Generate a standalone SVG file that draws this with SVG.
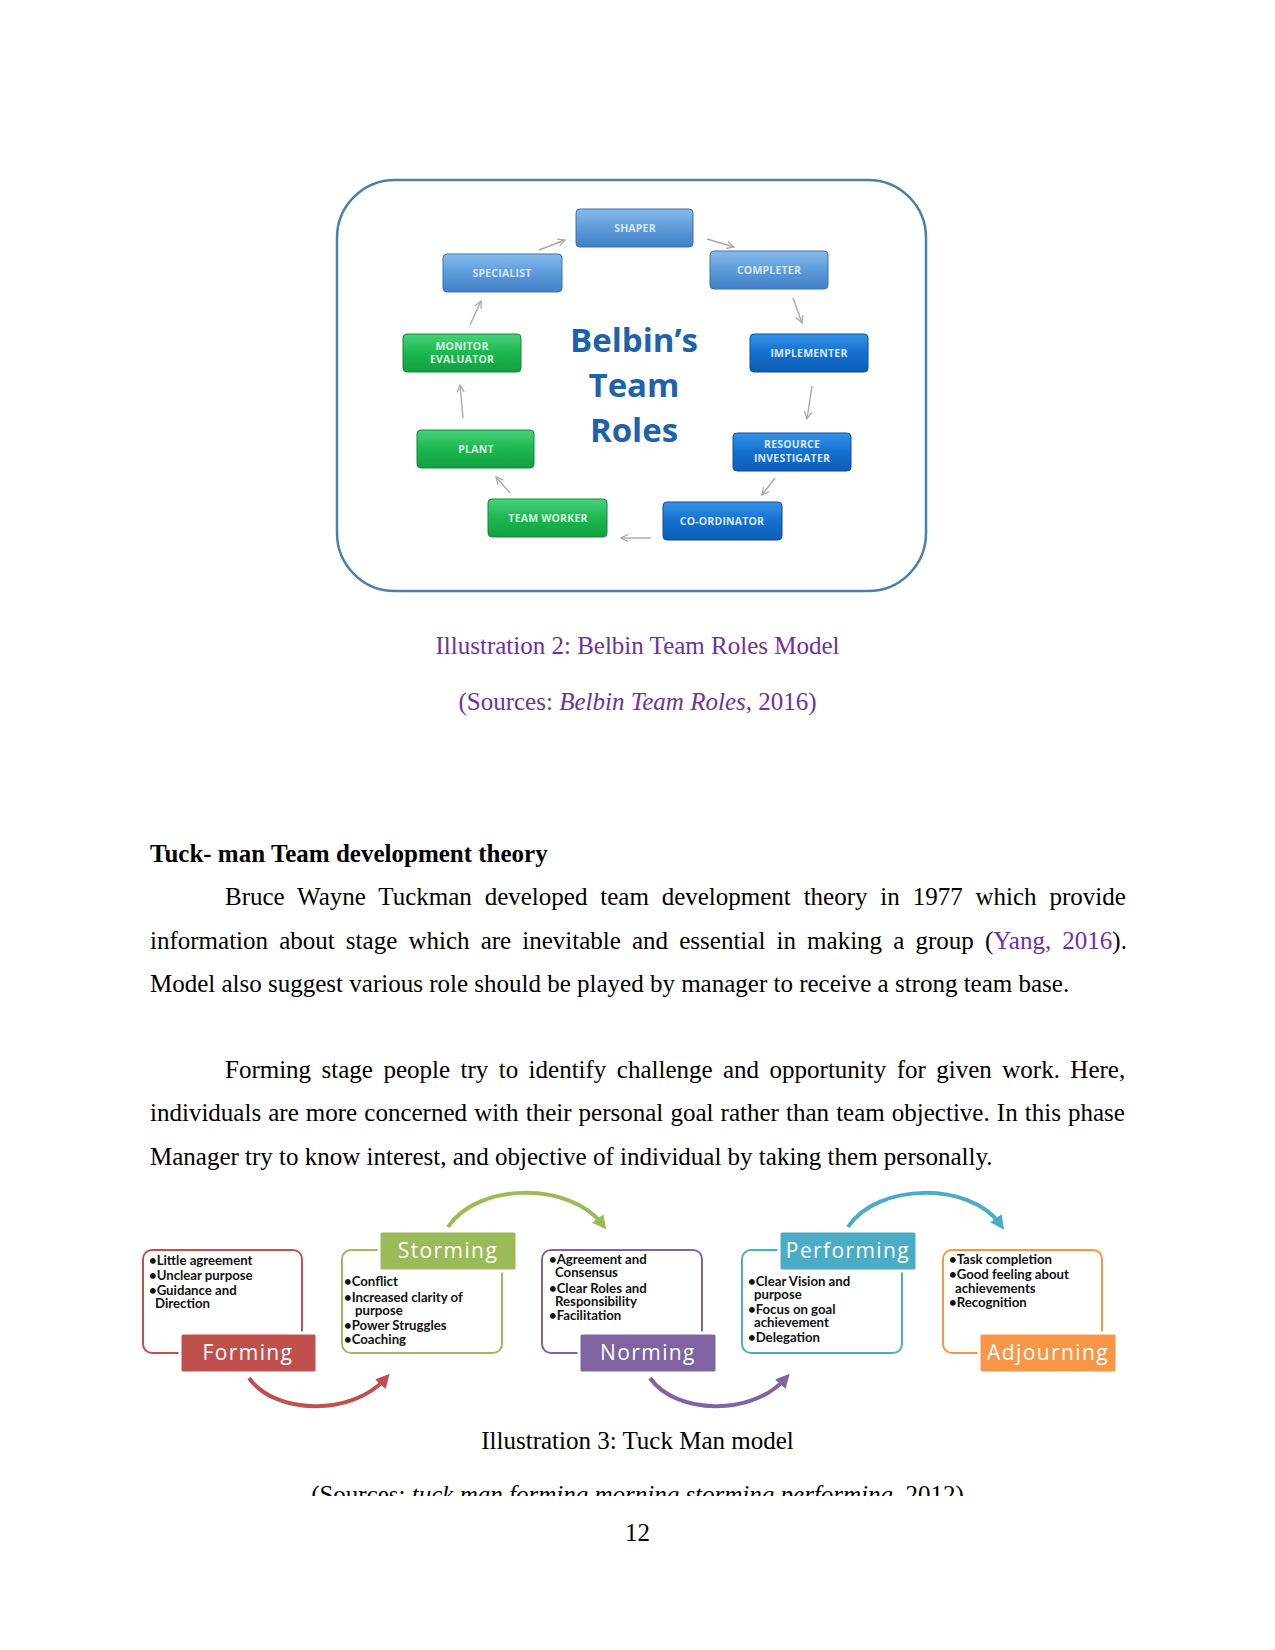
<svg xmlns="http://www.w3.org/2000/svg" width="1275" height="1650" viewBox="0 0 1275 1650">
<style>
.body{font-family:"Liberation Serif",serif;font-size:25px;fill:#000}
.cap{font-family:"Liberation Serif",serif;font-size:25px;fill:#7030A0}
.role{font-family:"Open Sans","DejaVu Sans",sans-serif;font-size:10.5px;font-weight:bold;text-anchor:middle;letter-spacing:0.2px}
.lb{fill:url(#gLight);stroke:#3B72AC;stroke-width:1}
.db{fill:url(#gDark);stroke:#0A4F9C;stroke-width:1}
.gb{fill:url(#gGreen);stroke:#0F8C38;stroke-width:1}
.garrow{fill:none;stroke:#A8A8A8;stroke-width:1.4;marker-end:url(#open)}
.belbin{font-family:"Open Sans","DejaVu Sans",sans-serif;font-size:33px;font-weight:bold;fill:#1F62AC;text-anchor:middle}
.bul{font-family:Lato,"Open Sans",sans-serif;font-size:13.2px;font-weight:bold;fill:#111}
.stage{font-family:"Open Sans","DejaVu Sans",sans-serif;font-size:21px;fill:#fff;text-anchor:middle;letter-spacing:1.4px}
.cbox{fill:#fff;stroke-width:2}
.curve{fill:none;stroke-width:4}
</style>
<defs>
<linearGradient id="gLight" x1="0" y1="0" x2="0" y2="1"><stop offset="0" stop-color="#86BCEC"/><stop offset="0.5" stop-color="#5D9BD9"/><stop offset="1" stop-color="#4180C6"/></linearGradient>
<linearGradient id="gDark" x1="0" y1="0" x2="0" y2="1"><stop offset="0" stop-color="#3592E6"/><stop offset="0.5" stop-color="#1470CF"/><stop offset="1" stop-color="#0C5DB6"/></linearGradient>
<linearGradient id="gGreen" x1="0" y1="0" x2="0" y2="1"><stop offset="0" stop-color="#48D27A"/><stop offset="0.5" stop-color="#1DB650"/><stop offset="1" stop-color="#11A040"/></linearGradient>
<marker id="open" viewBox="0 0 10 10" refX="9" refY="5" markerWidth="9" markerHeight="9" markerUnits="userSpaceOnUse" orient="auto"><path d="M1,1 L9,5 L1,9" fill="none" stroke="#A8A8A8" stroke-width="1.4"/></marker>
<marker id="aRed" viewBox="0 0 12 12" refX="6" refY="6" markerWidth="14" markerHeight="14" markerUnits="userSpaceOnUse" orient="auto"><path d="M0,0 L12,6 L0,12 z" fill="#C0504D"/></marker>
<marker id="aGreen" viewBox="0 0 12 12" refX="6" refY="6" markerWidth="14" markerHeight="14" markerUnits="userSpaceOnUse" orient="auto"><path d="M0,0 L12,6 L0,12 z" fill="#9BBB59"/></marker>
<marker id="aPurple" viewBox="0 0 12 12" refX="6" refY="6" markerWidth="14" markerHeight="14" markerUnits="userSpaceOnUse" orient="auto"><path d="M0,0 L12,6 L0,12 z" fill="#8064A2"/></marker>
<marker id="aTeal" viewBox="0 0 12 12" refX="6" refY="6" markerWidth="14" markerHeight="14" markerUnits="userSpaceOnUse" orient="auto"><path d="M0,0 L12,6 L0,12 z" fill="#4BACC6"/></marker>
<clipPath id="clipSrc"><rect x="0" y="1470" width="1275" height="26"/></clipPath>
</defs>
<rect width="1275" height="1650" fill="#fff"/>

<!-- Belbin figure -->
<g id="belbin-frame">
<rect x="337" y="180" width="589" height="411" rx="58" ry="58" fill="#fff" stroke="#4A7FAE" stroke-width="2.5"/>
</g>
<g id="belbin-title">
<text class="belbin" x="634" y="352">Belbin’s</text>
<text class="belbin" x="634" y="397">Team</text>
<text class="belbin" x="634" y="442">Roles</text>
</g>
<g id="connectors-belbin">
<line class="garrow" x1="539" y1="250" x2="565" y2="240"/>
<line class="garrow" x1="707" y1="239" x2="734" y2="247"/>
<line class="garrow" x1="793" y1="298" x2="802" y2="323"/>
<line class="garrow" x1="812" y1="386" x2="807" y2="419"/>
<line class="garrow" x1="775" y1="478" x2="762" y2="495"/>
<line class="garrow" x1="651" y1="538" x2="621" y2="538"/>
<line class="garrow" x1="510" y1="493" x2="496" y2="477"/>
<line class="garrow" x1="463" y1="418" x2="460" y2="385"/>
<line class="garrow" x1="470" y1="325" x2="481" y2="301"/>
</g>
<g id="shaper"><rect class="lb" x="576" y="209" width="117" height="38" rx="4"/><text class="role" x="635" y="232" fill="#D5E7F9">SHAPER</text></g>
<g id="completer"><rect class="lb" x="710" y="251" width="118" height="38" rx="4"/><text class="role" x="769" y="274" fill="#D5E7F9">COMPLETER</text></g>
<g id="specialist"><rect class="lb" x="443" y="254" width="119" height="38" rx="4"/><text class="role" x="502" y="277" fill="#D5E7F9">SPECIALIST</text></g>
<g id="monitor-evaluator"><rect class="gb" x="403" y="334" width="118" height="38" rx="4"/><text class="role" x="462" y="350" fill="#D2F4DC">MONITOR</text><text class="role" x="462" y="363" fill="#D2F4DC">EVALUATOR</text></g>
<g id="implementer"><rect class="db" x="750" y="334" width="118" height="38" rx="4"/><text class="role" x="809" y="357" fill="#D6E9FB">IMPLEMENTER</text></g>
<g id="plant"><rect class="gb" x="417" y="430" width="117" height="38" rx="4"/><text class="role" x="476" y="453" fill="#D2F4DC">PLANT</text></g>
<g id="resource-investigater"><rect class="db" x="733" y="433" width="118" height="38" rx="4"/><text class="role" x="792" y="448" fill="#D6E9FB">RESOURCE</text><text class="role" x="792" y="462" fill="#D6E9FB">INVESTIGATER</text></g>
<g id="team-worker"><rect class="gb" x="488" y="499" width="119" height="38" rx="4"/><text class="role" x="548" y="522" fill="#D2F4DC">TEAM WORKER</text></g>
<g id="co-ordinator"><rect class="db" x="663" y="502" width="119" height="38" rx="4"/><text class="role" x="722" y="525" fill="#D6E9FB">CO-ORDINATOR</text></g>

<g id="caption2">
<text class="cap" x="637.5" y="654" text-anchor="middle">Illustration 2: Belbin Team Roles Model</text>
<text class="cap" x="637.5" y="710" text-anchor="middle">(Sources: <tspan font-style="italic">Belbin Team Roles</tspan>, 2016)</text>
</g>

<g id="body-text">
<text class="body" x="150" y="862" font-weight="bold">Tuck- man Team development theory</text>
<text class="body" x="225" y="905" word-spacing="6.6">Bruce Wayne Tuckman developed team development theory in 1977 which provide</text>
<text class="body" x="150" y="949" word-spacing="4.9">information about stage which are inevitable and essential in making a group (<tspan fill="#7030A0">Yang, 2016</tspan>).</text>
<text class="body" x="150" y="992">Model also suggest various role should be played by manager to receive a strong team base.</text>
<text class="body" x="225" y="1078" word-spacing="4.2">Forming stage people try to identify challenge and opportunity for given work. Here,</text>
<text class="body" x="150" y="1121" word-spacing="0.86">individuals are more concerned with their personal goal rather than team objective. In this phase</text>
<text class="body" x="150" y="1165">Manager try to know interest, and objective of individual by taking them personally.</text>
</g>

<!-- Tuckman figure -->
<g id="connectors-tuckman">
<path class="curve" stroke="#C0504D" d="M249,1378 C275,1415 352,1416 385,1379" marker-end="url(#aRed)"/>
<path class="curve" stroke="#9BBB59" d="M448,1227 C478,1182 570,1182 602,1224" marker-end="url(#aGreen)"/>
<path class="curve" stroke="#8064A2" d="M650,1378 C676,1415 752,1416 785,1379" marker-end="url(#aPurple)"/>
<path class="curve" stroke="#4BACC6" d="M848,1227 C878,1182 970,1182 1000,1224" marker-end="url(#aTeal)"/>
</g>
<g id="forming">
<rect class="cbox" x="143" y="1250" width="159" height="103" rx="9" stroke="#C0504D"/>
<text class="bul" x="149" y="1265">•Little agreement</text>
<text class="bul" x="149" y="1280">•Unclear purpose</text>
<text class="bul" x="149" y="1295">•Guidance and</text>
<text class="bul" x="155" y="1308">Direction</text>
<rect x="180" y="1333" width="137" height="40" rx="3" fill="#C0504D" stroke="#fff" stroke-width="3"/>
<text class="stage" x="248" y="1360">Forming</text>
</g>
<g id="storming">
<rect class="cbox" x="342" y="1250" width="160" height="103" rx="9" stroke="#9BBB59"/>
<text class="bul" x="344" y="1286">•Conflict</text>
<text class="bul" x="344" y="1302">•Increased clarity of</text>
<text class="bul" x="355" y="1315">purpose</text>
<text class="bul" x="344" y="1330">•Power Struggles</text>
<text class="bul" x="344" y="1344">•Coaching</text>
<rect x="379" y="1231" width="138" height="40" rx="3" fill="#9BBB59" stroke="#fff" stroke-width="3"/>
<text class="stage" x="448" y="1258">Storming</text>
</g>
<g id="norming">
<rect class="cbox" x="542" y="1250" width="160" height="103" rx="9" stroke="#8064A2"/>
<text class="bul" x="549" y="1264">•Agreement and</text>
<text class="bul" x="555" y="1277">Consensus</text>
<text class="bul" x="549" y="1293">•Clear Roles and</text>
<text class="bul" x="555" y="1306">Responsibility</text>
<text class="bul" x="549" y="1320">•Facilitation</text>
<rect x="579" y="1333" width="138" height="40" rx="3" fill="#8064A2" stroke="#fff" stroke-width="3"/>
<text class="stage" x="648" y="1360">Norming</text>
</g>
<g id="performing">
<rect class="cbox" x="742" y="1250" width="160" height="103" rx="9" stroke="#4BACC6"/>
<text class="bul" x="748" y="1286">•Clear Vision and</text>
<text class="bul" x="754" y="1299">purpose</text>
<text class="bul" x="748" y="1314">•Focus on goal</text>
<text class="bul" x="754" y="1327">achievement</text>
<text class="bul" x="748" y="1342">•Delegation</text>
<rect x="779" y="1231" width="138" height="40" rx="3" fill="#4BACC6" stroke="#fff" stroke-width="3"/>
<text class="stage" x="848" y="1258">Performing</text>
</g>
<g id="adjourning">
<rect class="cbox" x="943" y="1250" width="159" height="103" rx="9" stroke="#F79646"/>
<text class="bul" x="949" y="1264">•Task completion</text>
<text class="bul" x="949" y="1279">•Good feeling about</text>
<text class="bul" x="955" y="1293">achievements</text>
<text class="bul" x="949" y="1307">•Recognition</text>
<rect x="979" y="1333" width="138" height="40" rx="3" fill="#F79646" stroke="#fff" stroke-width="3"/>
<text class="stage" x="1048" y="1360">Adjourning</text>
</g>

<g id="caption3">
<text class="body" x="637.5" y="1449" text-anchor="middle">Illustration 3: Tuck Man model</text>
<g clip-path="url(#clipSrc)">
<text class="body" x="637.5" y="1503" text-anchor="middle">(Sources: <tspan font-style="italic">tuck man forming morning storming performing</tspan>, 2012)</text>
</g>
<text class="body" x="637.5" y="1541" text-anchor="middle">12</text>
</g>
</svg>
